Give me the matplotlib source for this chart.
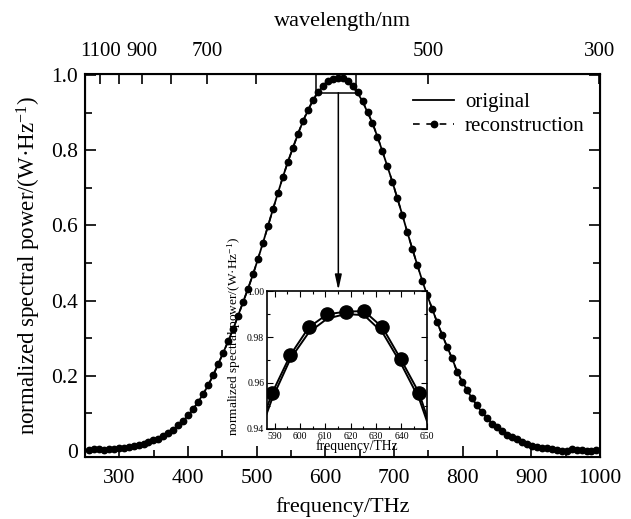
import matplotlib
matplotlib.use("Agg")
import matplotlib.pyplot as plt
from matplotlib.patches import Rectangle
from matplotlib.ticker import MultipleLocator, FuncFormatter, FixedLocator

plt.rcParams['font.family'] = ['Liberation Serif', 'DejaVu Serif']
plt.rcParams['mathtext.fontset'] = 'custom'
plt.rcParams['mathtext.rm'] = 'Liberation Serif'
plt.rcParams['mathtext.default'] = 'regular'

# ---------------- data ----------------
freq_thz = [255.5, 262.75, 270.0, 277.25, 284.5, 291.75, 299.0, 306.25, 313.5, 320.75,
            328.0, 335.25, 342.5, 349.75, 357.0, 364.25, 371.5, 378.75, 386.0, 393.25,
            400.5, 407.75, 415.0, 422.25, 429.5, 436.75, 444.0, 451.25, 458.5, 465.75,
            473.0, 480.25, 487.5, 494.75, 502.0, 509.25, 516.5, 523.75, 531.0, 538.25,
            545.5, 552.75, 560.0, 567.25, 574.5, 581.75, 589.0, 596.25, 603.5, 610.75,
            618.0, 625.25, 632.5, 639.75, 647.0, 654.25, 661.5, 668.75, 676.0, 683.25,
            690.5, 697.75, 705.0, 712.25, 719.5, 726.75, 734.0, 741.25, 748.5, 755.75,
            763.0, 770.25, 777.5, 784.75, 792.0, 799.25, 806.5, 813.75, 821.0, 828.25,
            835.5, 842.75, 850.0, 857.25, 864.5, 871.75, 879.0, 886.25, 893.5, 900.75,
            908.0, 915.25, 922.5, 929.75, 937.0, 944.25, 951.5, 958.75, 966.0, 973.25,
            980.5, 987.75, 995.0]

reconstruction = [0.002, 0.005, 0.004, 0.003, 0.005, 0.006, 0.007, 0.008, 0.010, 0.012,
                  0.015, 0.019, 0.023, 0.028, 0.033, 0.040, 0.048, 0.057, 0.068, 0.081,
                  0.095, 0.112, 0.131, 0.152, 0.175, 0.202, 0.231, 0.261, 0.292, 0.324,
                  0.360, 0.396, 0.432, 0.470, 0.511, 0.554, 0.598, 0.643, 0.686, 0.729,
                  0.769, 0.806, 0.843, 0.877, 0.906, 0.933, 0.9555, 0.9722, 0.9842, 0.9899,
                  0.9910, 0.9913, 0.9842, 0.9703, 0.9555, 0.931, 0.902, 0.873, 0.836, 0.797,
                  0.757, 0.716, 0.672, 0.628, 0.582, 0.538, 0.495, 0.453, 0.414, 0.378,
                  0.342, 0.309, 0.277, 0.246, 0.210, 0.184, 0.162, 0.140, 0.121, 0.103,
                  0.088, 0.073, 0.064, 0.053, 0.042, 0.037, 0.033, 0.025, 0.019, 0.013,
                  0.010, 0.009, 0.007, 0.005, 0.002, 0.000, 0.001, 0.005, 0.003, 0.002,
                  0.001, 0.000, 0.003]

original = [0.002, 0.003, 0.003, 0.004, 0.004, 0.005, 0.006, 0.007, 0.009, 0.011,
            0.014, 0.018, 0.022, 0.027, 0.033, 0.040, 0.048, 0.057, 0.068, 0.081,
            0.095, 0.112, 0.131, 0.152, 0.175, 0.202, 0.231, 0.261, 0.292, 0.324,
            0.360, 0.396, 0.432, 0.470, 0.511, 0.554, 0.598, 0.643, 0.686, 0.729,
            0.769, 0.806, 0.842, 0.876, 0.905, 0.931, 0.953, 0.9705, 0.982, 0.988,
            0.990, 0.9895, 0.982, 0.9685, 0.953, 0.930, 0.901, 0.872, 0.836, 0.797,
            0.757, 0.716, 0.672, 0.628, 0.582, 0.538, 0.495, 0.453, 0.414, 0.378,
            0.342, 0.309, 0.277, 0.246, 0.212, 0.185, 0.162, 0.140, 0.121, 0.103,
            0.088, 0.074, 0.063, 0.052, 0.043, 0.036, 0.031, 0.025, 0.019, 0.014,
            0.010, 0.008, 0.007, 0.005, 0.004, 0.003, 0.003, 0.002, 0.002, 0.002,
            0.001, 0.001, 0.001]

# top (wavelength) axis as drawn in the reference: labelled ticks and unlabelled ticks,
# given by their position on the frequency scale (THz)
top_label_pos_thz = [272.5, 333.1, 428.3, 749.5, 999.3]
top_labels = ['1100', '900', '700', '500', '300']
top_minor_pos_thz = [299.8, 374.7, 499.7]

# ---------------- figure ----------------
fig = plt.figure(figsize=(6.31, 5.19), dpi=100)
ax = fig.add_axes([0.1347, 0.1195, 0.816, 0.738])

ax.plot(freq_thz, reconstruction, linestyle=(0, (4, 4)), color='black', lw=1.2,
        marker='o', markersize=4.6, label='reconstruction', zorder=3)
ax.plot(freq_thz, original, '-', color='black', lw=1.3, label='original', zorder=2)

ax.set_xlim(250, 1000)
ax.set_ylim(-0.016, 1.003)
ax.xaxis.set_major_locator(MultipleLocator(100))
ax.xaxis.set_minor_locator(MultipleLocator(50))
ax.yaxis.set_major_locator(MultipleLocator(0.2))
ax.yaxis.set_minor_locator(MultipleLocator(0.1))
ax.yaxis.set_major_formatter(FuncFormatter(lambda v, p: '0' if abs(v) < 1e-9 else f'{v:.1f}'))
ax.tick_params(which='both', direction='in', top=False, right=True, labelsize=15.5, width=1.2)
ax.tick_params(axis='x', which='both', pad=9)
ax.tick_params(axis='y', which='both', pad=5)
ax.tick_params(which='major', length=8)
ax.tick_params(which='minor', length=5)
for s in ax.spines.values():
    s.set_linewidth(1.5)
ax.set_xlabel('frequency/THz', fontsize=16, labelpad=6)
ax.set_ylabel('normalized spectral power/(W·Hz$^{-1}$)', fontsize=16.5, labelpad=6)

# top wavelength axis
axt = ax.twiny()
axt.set_xlim(ax.get_xlim())
axt.xaxis.set_major_locator(FixedLocator(top_label_pos_thz))
axt.xaxis.set_minor_locator(FixedLocator(top_minor_pos_thz))
axt.set_xticklabels(top_labels)
axt.tick_params(which='both', direction='in', labelsize=15, width=1.2, pad=9)
axt.tick_params(which='major', length=7)
axt.tick_params(which='minor', length=7)
axt.set_xlabel('wavelength/nm', fontsize=16, labelpad=12)

# legend
handles, labels = ax.get_legend_handles_labels()
leg = ax.legend([handles[1], handles[0]], [labels[1], labels[0]], loc='upper left',
                bbox_to_anchor=(0.6, 1.0), frameon=False, fontsize=15,
                handlelength=2.0, handletextpad=0.5, labelspacing=0.2)

# zoom rectangle and arrow
ax.add_patch(Rectangle((587, 0.953), 58, 0.05, fill=False, lw=1.1, color='black', zorder=4))
ax.annotate('', xy=(619, 0.428), xytext=(619, 0.953),
            arrowprops=dict(arrowstyle='-|>,head_length=0.9,head_width=0.2',
                            color='black', lw=1.1, shrinkA=0, shrinkB=0), zorder=4)

# inset
axi = ax.inset_axes([515, 0.0585, 233, 0.367], transform=ax.transData)
axi.plot(freq_thz, original, '-', color='black', lw=1.4)
axi.plot(freq_thz, reconstruction, '-', color='black', lw=1.4, marker='o', markersize=9.5)
axi.set_xlim(587, 650)
axi.set_ylim(0.94, 1.00)
axi.xaxis.set_major_locator(MultipleLocator(10))
axi.xaxis.set_minor_locator(MultipleLocator(5))
axi.yaxis.set_major_locator(MultipleLocator(0.02))
axi.yaxis.set_minor_locator(MultipleLocator(0.01))
axi.yaxis.set_major_formatter(FuncFormatter(lambda v, p: f'{v:.2f}'))
axi.tick_params(which='both', direction='in', top=True, right=True, labelsize=7, width=0.8, pad=2)
axi.tick_params(which='major', length=4)
axi.tick_params(which='minor', length=2.5)
for s in axi.spines.values():
    s.set_linewidth(1.2)
axi.set_xlabel('frequency/THz', fontsize=9.8)
axi.set_ylabel('normalized spectral power/(W·Hz$^{-1}$)', fontsize=9.6)
axi.xaxis.set_label_coords(0.56, -0.075)
axi.yaxis.set_label_coords(-0.15, 0.67)
axi.set_zorder(5)

fig.savefig('out.png', dpi=100)
